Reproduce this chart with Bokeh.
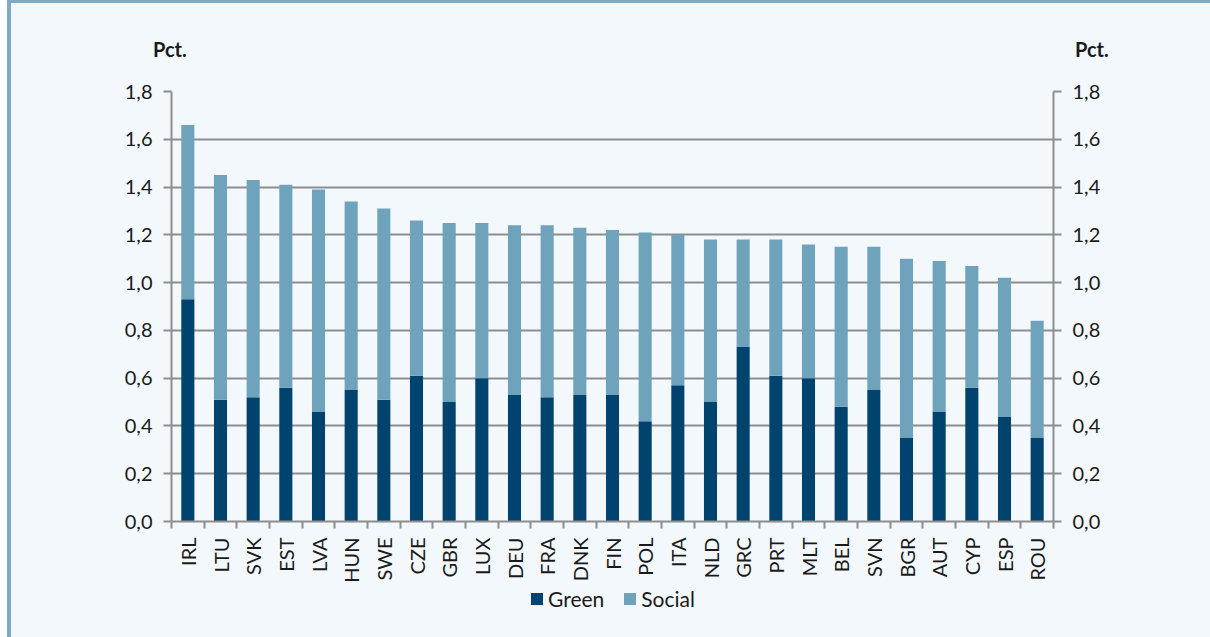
from bokeh.plotting import figure
from bokeh.layouts import column
from bokeh.models import (ColumnDataSource, LinearAxis, FixedTicker, CustomJSTickFormatter,
                          Legend, LegendItem, Range1d, Div)
from bokeh.embed import file_html
from bokeh.resources import INLINE

# Countries, sorted by total share (Green + Social), in pct.
countries = ["IRL", "LTU", "SVK", "EST", "LVA", "HUN", "SWE", "CZE", "GBR", "LUX",
             "DEU", "FRA", "DNK", "FIN", "POL", "ITA", "NLD", "GRC", "PRT", "MLT",
             "BEL", "SVN", "BGR", "AUT", "CYP", "ESP", "ROU"]
green = [0.93, 0.51, 0.52, 0.56, 0.46, 0.55, 0.51, 0.61, 0.50, 0.60,
         0.53, 0.52, 0.53, 0.53, 0.42, 0.57, 0.50, 0.73, 0.61, 0.60,
         0.48, 0.55, 0.35, 0.46, 0.56, 0.44, 0.35]
social = [0.73, 0.94, 0.91, 0.85, 0.93, 0.79, 0.80, 0.65, 0.75, 0.65,
          0.71, 0.72, 0.70, 0.69, 0.79, 0.63, 0.68, 0.45, 0.57, 0.56,
          0.67, 0.60, 0.75, 0.63, 0.51, 0.58, 0.49]
series_names = ["Green", "Social"]
y_ticks = [0.0, 0.2, 0.4, 0.6, 0.8, 1.0, 1.2, 1.4, 1.6, 1.8]
unit_label = "Pct."

GREEN_C = "#00436f"
SOCIAL_C = "#6fa3bc"
COLORS = [GREEN_C, SOCIAL_C]
BG = "#f2f8fc"
GRID = "#8e8e8e"
TXT = "#1a1a1a"
FRAME_C = "#7eabc4"
FONT = "Lato"
W = 1199
x_rng = (-0.5, len(countries) - 0.5)

pos = list(range(len(countries)))
src = ColumnDataSource(dict(x=pos, Green=green, Social=social))

# header strip with the unit label over both value axes
span_css = ("position:absolute; top:35px; font-family:Lato; font-weight:bold; "
            "font-size:20px; line-height:22px; color:%s;" % TXT)
header = Div(width=W, height=60, margin=0, styles={"background-color": BG},
             text=(f'<div style="position:relative; width:{W}px; height:60px;">'
                   f'<span style="{span_css} left:142px;">{unit_label}</span>'
                   f'<span style="{span_css} left:1064px;">{unit_label}</span></div>'))

p = figure(width=W, height=523, output_backend="svg", toolbar_location=None,
           x_range=Range1d(*x_rng), y_range=Range1d(0, 1.8),
           min_border_left=160, min_border_right=157, min_border_top=28, min_border_bottom=65)
p.background_fill_color = BG
p.border_fill_color = BG
p.outline_line_color = None

bars = p.vbar_stack(series_names, x="x", width=0.4, source=src,
                    color=COLORS, line_color=None)

# horizontal grid
p.xgrid.grid_line_color = None
p.ygrid.ticker = FixedTicker(ticks=y_ticks)
p.ygrid.grid_line_color = GRID
p.ygrid.grid_line_width = 2

fmt = CustomJSTickFormatter(code="return tick.toFixed(1).replace('.', ',');")

def style_y(ax):
    ax.ticker = FixedTicker(ticks=y_ticks)
    ax.formatter = fmt
    ax.axis_line_color = GRID
    ax.axis_line_width = 2
    ax.major_tick_line_color = GRID
    ax.major_tick_line_width = 2
    ax.major_tick_out = 8
    ax.major_tick_in = 0
    ax.minor_tick_line_color = None
    ax.major_label_standoff = 11
    ax.major_label_text_font = FONT
    ax.major_label_text_font_size = "20px"
    ax.major_label_text_color = TXT

style_y(p.yaxis[0])
right = LinearAxis()
style_y(right)
p.add_layout(right, "right")

# category axis: labels at bar centres, tick marks between categories
xa = p.xaxis[0]
xa.ticker = FixedTicker(ticks=pos, minor_ticks=[i - 0.5 for i in range(len(countries) + 1)])
xa.major_label_overrides = {i: c for i, c in enumerate(countries)}
xa.major_label_orientation = 3.14159265 / 2
xa.major_tick_line_color = None
xa.major_tick_out = 0
xa.major_tick_in = 0
xa.minor_tick_line_color = GRID
xa.minor_tick_line_width = 2
xa.minor_tick_out = 7
xa.minor_tick_in = 0
xa.axis_line_color = GRID
xa.axis_line_width = 2
xa.major_label_standoff = 9
xa.major_label_text_font = FONT
xa.major_label_text_font_size = "20px"
xa.major_label_text_color = TXT

# legend strip under the category labels; its renderers share the bar data,
# with a value window above the data so only the legend keys are shown
leg = figure(width=W, height=51, output_backend="svg", toolbar_location=None,
             x_range=Range1d(*x_rng), y_range=Range1d(2, 3),
             x_axis_location=None, y_axis_location=None,
             min_border_left=8, min_border_right=0, min_border_top=0, min_border_bottom=0)
leg.background_fill_color = BG
leg.border_fill_color = BG
leg.outline_line_color = None
leg.grid.grid_line_color = None
keys = leg.vbar_stack(series_names, x="x", width=0.4, source=src,
                      color=COLORS, line_color=None)
legend = Legend(items=[LegendItem(label=n, renderers=[r]) for n, r in zip(series_names, keys)],
                orientation="horizontal", location="top_center",
                background_fill_alpha=0, border_line_color=None,
                glyph_width=15, glyph_height=15, label_height=15, label_standoff=4, spacing=18,
                padding=0, margin=0, label_text_font=FONT, label_text_font_size="21px",
                label_text_color=TXT)
leg.add_layout(legend, "center")

page = column(header, p, leg, spacing=0)
page.styles = {"margin-left": "7px", "border-left": f"4px solid {FRAME_C}",
               "border-top": f"3px solid {FRAME_C}", "background-color": BG}

open("out.html", "w").write(file_html(page, INLINE))
